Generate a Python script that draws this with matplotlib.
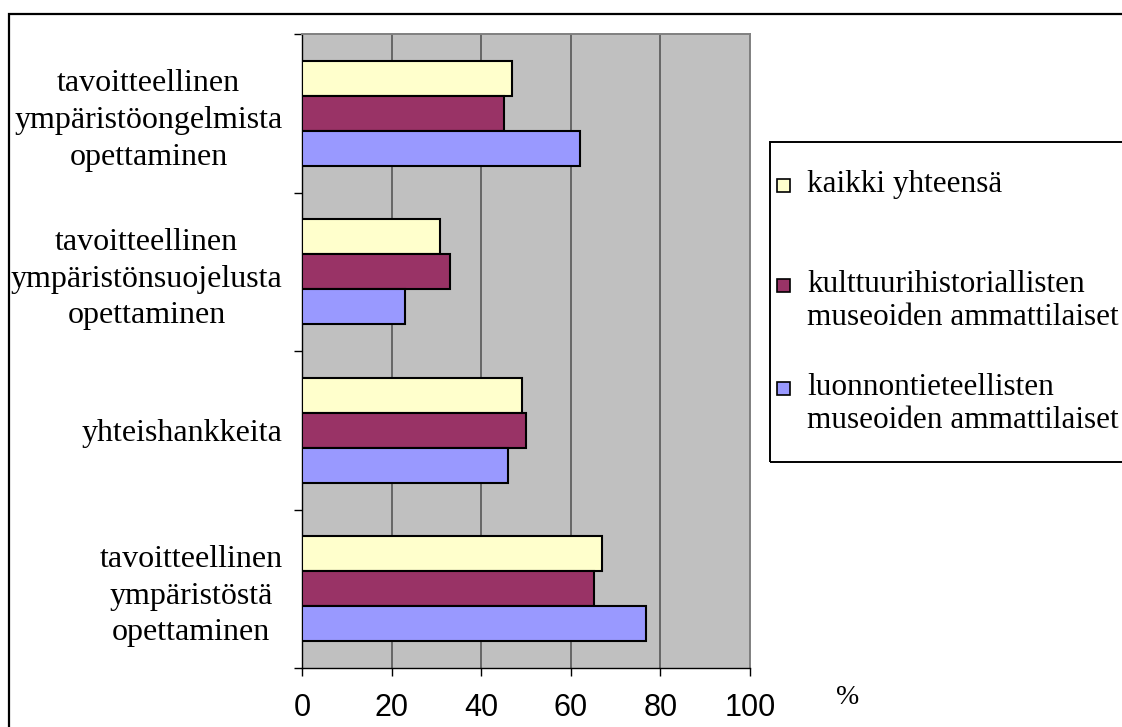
import numpy as np
import matplotlib
matplotlib.use('Agg')
import matplotlib.pyplot as plt
from matplotlib.patches import Rectangle

# data, categories listed from top to bottom
categories = ['tavoitteellinen\nympäristöongelmista\nopettaminen',
              'tavoitteellinen\nympäristönsuojelusta\nopettaminen',
              'yhteishankkeita',
              'tavoitteellinen\nympäristöstä\nopettaminen']
series_names = ['kaikki yhteensä',
                'kulttuurihistoriallisten\nmuseoiden ammattilaiset',
                'luonnontieteellisten\nmuseoiden ammattilaiset']
kaikki = [46.8, 30.7, 49.1, 67.0]
kulttuuri = [45.1, 33.0, 50.0, 65.1]
luonnon = [62.1, 23.1, 45.9, 76.7]
colors = ['#FFFFCC', '#993366', '#9999FF']
xticks = [0, 20, 40, 60, 80, 100]

W, H = 1122, 727

def fx(x):
    return x / W

def fy(y):
    return 1 - y / H

serif = 'Liberation Serif'
sans = 'Liberation Sans'

fig = plt.figure(figsize=(W / 100, H / 100), dpi=100)
ax = fig.add_axes([fx(302), fy(668), (750 - 302) / W, (668 - 34) / H])
ax.set_facecolor('#C0C0C0')

# outer frame running off the right and bottom edges
fig.patches.append(Rectangle((fx(9), -0.1), 1.2, fy(14) + 0.1, transform=fig.transFigure,
                             fill=False, edgecolor='black', lw=1.6, zorder=0))

y = np.arange(len(categories))
h = 0.221
for i, vals in enumerate([kaikki, kulttuuri, luonnon]):
    ax.barh(y + (i - 1) * h, vals, height=h, color=colors[i],
            edgecolor='black', linewidth=1.5, zorder=3)

ax.set_xlim(0, 100)
ax.set_ylim(3.5, -0.5)
ax.set_xticks(xticks)
ax.set_xticklabels([str(t) for t in xticks], fontsize=22, family=sans)
ax.tick_params(axis='x', length=6, width=1, direction='out', pad=12)
ax.xaxis.grid(True, color='#666666', lw=1.4, zorder=1)
ax.set_axisbelow(True)

ax.set_yticks(np.arange(-0.5, 4, 1))
ax.set_yticklabels([])
ax.tick_params(axis='y', which='major', length=6, width=1, direction='out')
ax.set_yticks(y, minor=True)
ax.set_yticklabels(categories, minor=True, fontsize=23, family=serif,
                   multialignment='center', linespacing=1.35)
ax.tick_params(axis='y', which='minor', length=0, pad=14)
for lab in ax.get_yticklabels(minor=True):
    lab.set_va('center_baseline')

for s in ['top', 'right']:
    ax.spines[s].set_color('#808080')
    ax.spines[s].set_linewidth(1.4)
for s in ['left', 'bottom']:
    ax.spines[s].set_color('black')
    ax.spines[s].set_linewidth(1.0)

fig.text(fx(848), fy(698), '%', fontsize=20, family=serif, ha='center', va='center')

# legend box (runs off the right edge like the original)
fig.patches.append(Rectangle((fx(770), fy(462)), 0.5, (462 - 142) / H,
                             transform=fig.transFigure, fill=False,
                             edgecolor='black', lw=1.4, zorder=2))
entry_y = [185, 285, 388]
for name, c, ey in zip(series_names, colors, entry_y):
    fig.patches.append(Rectangle((fx(777), fy(ey + 7)), 13 / W, 13 / H,
                                 transform=fig.transFigure, facecolor=c,
                                 edgecolor='black', lw=1.2, zorder=3))
    fig.text(fx(807), fy(ey - 15), name, fontsize=22.5, family=serif,
             ha='left', va='top', linespacing=1.2)

fig.savefig('out.png', dpi=100)
